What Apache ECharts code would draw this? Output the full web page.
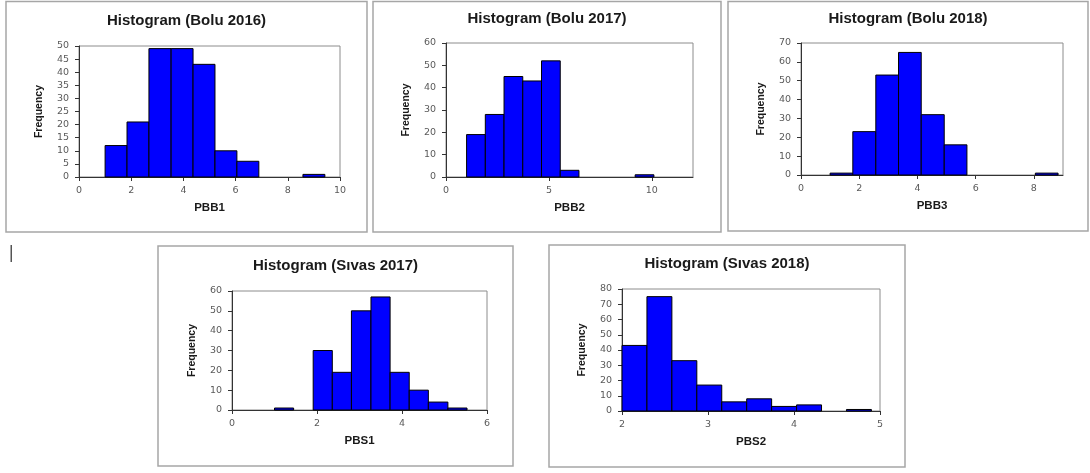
<!DOCTYPE html>
<html>
<head>
<meta charset="utf-8">
<title>Histograms</title>
<script src="https://cdn.jsdelivr.net/npm/echarts@6/dist/echarts.min.js"></script>
<style>
  html, body { margin: 0; padding: 0; background: #ffffff; }
  #chart { width: 1090px; height: 473px; }
</style>
</head>
<body>
<div id="chart"></div>
<script>
// Panel titles and variable names
const titles = [
  'Histogram (Bolu 2016)',
  'Histogram (Bolu 2017)',
  'Histogram (Bolu 2018)',
  'Histogram (Sıvas 2017)',
  'Histogram (Sıvas 2018)'
];
const xNames = ['PBB1', 'PBB2', 'PBB3', 'PBS1', 'PBS2'];

// Bin edges (11 edges -> 10 bins) for each variable
const edgesPBB1 = [1.00, 1.84, 2.68, 3.53, 4.37, 5.21, 6.05, 6.89, 7.74, 8.58, 9.42];
const edgesPBB2 = [1.00, 1.91, 2.82, 3.73, 4.64, 5.55, 6.46, 7.37, 8.28, 9.19, 10.10];
const edgesPBB3 = [1.00, 1.78, 2.57, 3.35, 4.13, 4.92, 5.70, 6.48, 7.26, 8.05, 8.83];
const edgesPBS1 = [1.00, 1.45, 1.91, 2.36, 2.81, 3.27, 3.72, 4.17, 4.62, 5.08, 5.53];
const edgesPBS2 = [2.00, 2.29, 2.58, 2.87, 3.16, 3.45, 3.74, 4.03, 4.32, 4.61, 4.90];

// Frequencies per bin
const countsPBB1 = [12, 21, 49, 49, 43, 10, 6, 0, 0, 1];
const countsPBB2 = [19, 28, 45, 43, 52, 3, 0, 0, 0, 1];
const countsPBB3 = [1, 23, 53, 65, 32, 16, 0, 0, 0, 1];
const countsPBS1 = [1, 0, 30, 19, 50, 57, 19, 10, 4, 1];
const countsPBS2 = [43, 75, 33, 17, 6, 8, 3, 4, 0, 1];

// Axis ranges: [min, max, interval]
const xRanges = [[0, 10, 2], [0, 12, 5], [0, 9, 2], [0, 6, 2], [2, 5, 1]];
const yRanges = [[0, 50, 5], [0, 60, 10], [0, 70, 10], [0, 60, 10], [0, 80, 10]];

const allEdges = [edgesPBB1, edgesPBB2, edgesPBB3, edgesPBS1, edgesPBS2];
const allCounts = [countsPBB1, countsPBB2, countsPBB3, countsPBS1, countsPBS2];

// Layout of each panel: outer frame and plot area (pixels)
const frames = [
  { x: 6,   y: 1.5, w: 361, h: 230.5 },
  { x: 373, y: 1.5, w: 348, h: 230.5 },
  { x: 728, y: 1.5, w: 360, h: 229.5 },
  { x: 158, y: 246, w: 355, h: 220 },
  { x: 549, y: 245, w: 356, h: 222 }
];
const plots = [
  { left: 79,  top: 46,  width: 261, height: 131 },
  { left: 446, top: 43,  width: 247, height: 134 },
  { left: 801, top: 43,  width: 262, height: 132 },
  { left: 232, top: 291, width: 255, height: 119 },
  { left: 622, top: 289, width: 258, height: 122 }
];
const titleY = [21, 18.5, 18.5, 266, 264];

const FONT_TITLE = 'Liberation Sans';
const FONT_TICK = 'DejaVu Sans';

function buildBins(edges, counts) {
  return counts.map((c, i) => [edges[i], edges[i + 1], c]);
}

const grids = [], xAxes = [], yAxes = [], series = [], titleList = [], graphics = [];

for (let i = 0; i < 5; i++) {
  const p = plots[i], f = frames[i];
  grids.push({
    left: p.left, top: p.top, width: p.width, height: p.height,
    show: true, borderColor: '#8c8c8c', borderWidth: 1, backgroundColor: 'transparent'
  });
  xAxes.push({
    type: 'value', gridIndex: i,
    min: xRanges[i][0], max: xRanges[i][1], interval: xRanges[i][2],
    name: xNames[i], nameLocation: 'middle', nameGap: 25,
    nameTextStyle: { fontFamily: FONT_TITLE, fontWeight: 'bold', fontSize: 11.5, color: '#1a1a1a' },
    axisLine: { show: true, onZero: false, lineStyle: { color: '#333333', width: 1 } },
    axisTick: { show: true, length: 4, lineStyle: { color: '#333333' } },
    axisLabel: { fontFamily: FONT_TICK, fontSize: 9.5, color: '#5a5a5a', margin: 9, showMaxLabel: xRanges[i][1] % xRanges[i][2] === 0 },
    splitLine: { show: false }
  });
  yAxes.push({
    type: 'value', gridIndex: i,
    min: yRanges[i][0], max: yRanges[i][1], interval: yRanges[i][2],
    name: 'Frequency', nameLocation: 'middle', nameGap: 34,
    nameTextStyle: { fontFamily: FONT_TITLE, fontWeight: 'bold', fontSize: 10.5, color: '#1a1a1a' },
    axisLine: { show: true, lineStyle: { color: '#333333', width: 1 } },
    axisTick: { show: true, length: 4, lineStyle: { color: '#333333' } },
    axisLabel: { fontFamily: FONT_TICK, fontSize: 9.5, color: '#5a5a5a', margin: 10 },
    splitLine: { show: false }
  });
  series.push({
    type: 'custom', xAxisIndex: i, yAxisIndex: i,
    encode: { x: [0, 1], y: 2 },
    data: buildBins(allEdges[i], allCounts[i]),
    renderItem: function (params, api) {
      const n = api.value(2);
      if (!n) return null;
      const a = api.coord([api.value(0), 0]);
      const b = api.coord([api.value(1), n]);
      return {
        type: 'rect',
        shape: { x: a[0], y: b[1], width: b[0] - a[0], height: a[1] - b[1] },
        style: { fill: '#0000ff', stroke: '#000000', lineWidth: 1 }
      };
    }
  });
  titleList.push({
    text: titles[i], left: f.x + f.w / 2, top: titleY[i] - 7.5, textAlign: 'center', padding: 0,
    textStyle: { fontFamily: FONT_TITLE, fontWeight: 'bold', fontSize: 15, color: '#1a1a1a' }
  });
  graphics.push({
    type: 'rect', z: -1,
    shape: { x: f.x, y: f.y, width: f.w, height: f.h },
    style: { fill: '#ffffff', stroke: '#a6a6a6', lineWidth: 1.5 }
  });
}

// Stray cursor mark at the left of the lower row
graphics.push({
  type: 'rect', shape: { x: 10.5, y: 245, width: 1.5, height: 17 },
  style: { fill: '#555555' }
});

const chart = echarts.init(document.getElementById('chart'), null, { renderer: 'canvas' });
chart.setOption({
  animation: false,
  backgroundColor: '#ffffff',
  title: titleList,
  grid: grids,
  xAxis: xAxes,
  yAxis: yAxes,
  series: series,
  graphic: graphics
});
</script>
</body>
</html>
